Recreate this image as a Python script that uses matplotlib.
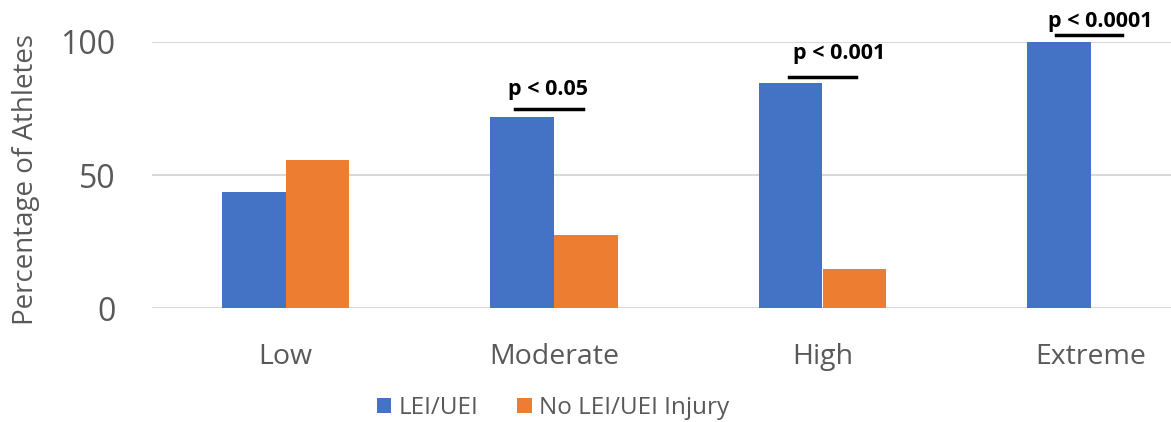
import numpy as np
import matplotlib.pyplot as plt

# data
categories = ['Low', 'Moderate', 'High', 'Extreme']
lei_uei = [43.6, 71.7, 84.5, 100]
no_injury = [55.6, 27.4, 14.8, 0]
p_labels = ['p < 0.05', 'p < 0.001', 'p < 0.0001']
p_groups = [1, 2, 3]
p_line_y = [75, 86.7, 102.6]
p_text_y = [82.3, 95.7, 107.6]

# placement of the significance bars relative to the group centre
line_left = [-0.146, -0.125, -0.13]
line_right = [0.107, 0.125, 0.116]
text_dx = [-0.023, 0.062, 0.034]

blue = '#4472c4'
orange = '#ed7d31'
grey = '#595959'

plt.rcParams['font.family'] = ['Open Sans', 'DejaVu Sans']

fig = plt.figure(figsize=(11.71, 4.22), dpi=100)
# right side of the original chart is cropped, so the axes run past the edge
ax = fig.add_axes([151.5 / 1171, 113.7 / 422, 1073.6 / 1171, 266.3 / 422])

x = np.arange(len(categories))
w = 0.237
ax.bar(x - w / 2, lei_uei, w, color=blue, label='LEI/UEI', zorder=3)
ax.bar(x + w / 2, no_injury, w, color=orange, label='No LEI/UEI Injury', zorder=3)

ax.set_xlim(-0.5, 3.5)
ax.set_ylim(0, 100)
ax.set_yticks([0, 50, 100])
ax.set_xticks(x)
ax.set_xticklabels(categories)
ax.yaxis.grid(True, color='#d9d9d9', linewidth=1.5, zorder=0)
for s in ax.spines.values():
    s.set_visible(False)
ax.tick_params(axis='both', length=0, colors=grey)
ax.tick_params(axis='y', labelsize=23, pad=26)
ax.tick_params(axis='x', labelsize=20.5, pad=25)
ax.set_ylabel('Percentage of Athletes', fontsize=20, color=grey)
ax.yaxis.set_label_coords(-0.104, 0.482)

# significance markers
for g, lab, ly, ty, l0, l1, dx in zip(p_groups, p_labels, p_line_y, p_text_y,
                                      line_left, line_right, text_dx):
    ax.plot([g + l0, g + l1], [ly, ly], color='black', linewidth=2.5,
            clip_on=False, zorder=4)
    ax.text(g + dx, ty, lab, ha='center', va='center', fontsize=15.5,
            fontweight='bold', color='black', clip_on=False)

leg = ax.legend(loc='center', bbox_to_anchor=(401.5 / 1073.6, -100 / 266.3),
                ncol=2, frameon=False, fontsize=17.5, handlelength=0.6,
                handleheight=0.6, handletextpad=0.3, columnspacing=1.6,
                borderpad=0)
for t in leg.get_texts():
    t.set_color(grey)

fig.savefig('out.png', dpi=100)
